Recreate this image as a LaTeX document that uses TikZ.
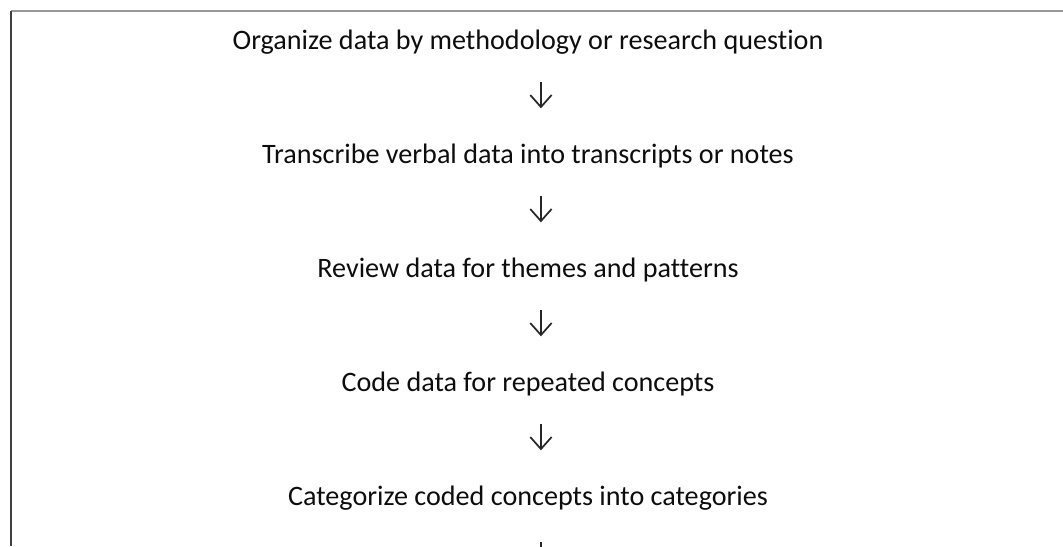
\documentclass[tikz,border=0pt]{standalone}
\usepackage{fontspec}
\setmainfont[Ligatures=NoCommon]{Carlito}
\usetikzlibrary{arrows.meta}

\begin{document}
\begin{tikzpicture}[x=0.75pt,y=-0.75pt,
  steptext/.style={anchor=base,inner sep=0pt,font=\fontsize{21.1}{25}\selectfont,text=black!95},
  flow/.style={line width=1.3pt,black!85,-{Straight Barb[length=9pt,width=16pt,line width=1.3pt]}}]
\useasboundingbox (0,0) rectangle (1063,546);
\clip (0,0) rectangle (1063,546);
\draw[gray!80,line width=1.2pt] (11,11) -- (1063,11);
\draw[black!75,line width=1.5pt] (11,11) -- (11,546);
\node[steptext] (s1) at (528,49) {Organize data by methodology or research question};
\node[steptext] (s2) at (528,163) {Transcribe verbal data into transcripts or notes};
\node[steptext] (s3) at (528,277) {Review data for themes and patterns};
\node[steptext] (s4) at (528,391) {Code data for repeated concepts};
\node[steptext] (s5) at (528,505) {Categorize coded concepts into categories};
\coordinate (s6) at (528,619);
\draw[flow] ([xshift=9.7pt,yshift=-25pt]s1.base) -- ([xshift=9.7pt,yshift=41pt]s2.base);
\draw[flow] ([xshift=9.7pt,yshift=-25pt]s2.base) -- ([xshift=9.7pt,yshift=41pt]s3.base);
\draw[flow] ([xshift=9.7pt,yshift=-25pt]s3.base) -- ([xshift=9.7pt,yshift=41pt]s4.base);
\draw[flow] ([xshift=9.7pt,yshift=-25pt]s4.base) -- ([xshift=9.7pt,yshift=41pt]s5.base);
\draw[flow] ([xshift=9.7pt,yshift=-27.5pt]s5.base) -- ([xshift=9.7pt,yshift=41pt]s6);
\end{tikzpicture}
\end{document}
